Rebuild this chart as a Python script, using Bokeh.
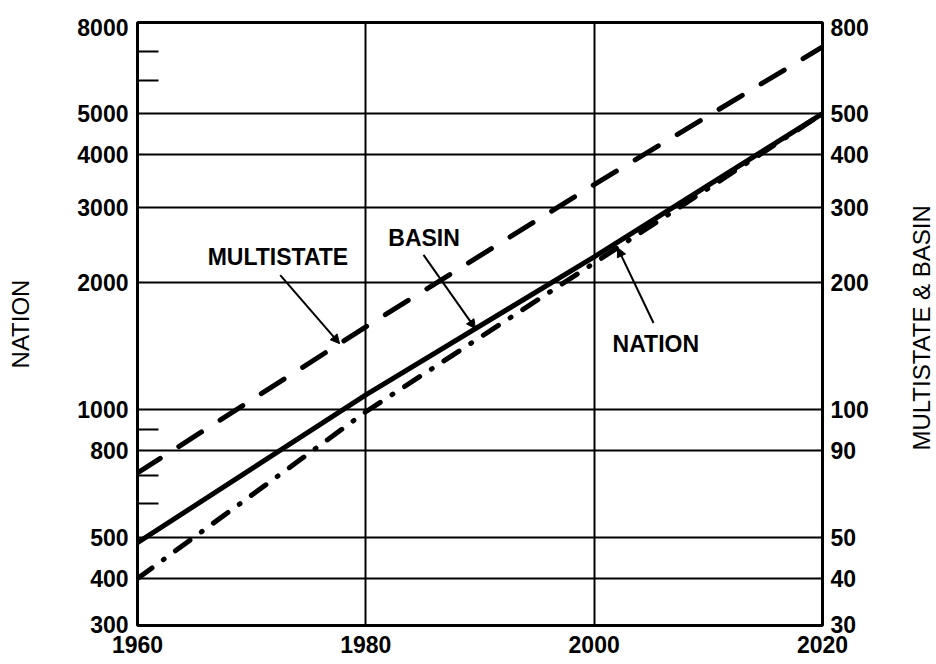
import math
from bokeh.plotting import figure
from bokeh.layouts import row
from bokeh.models import (Range1d, LogScale, LogAxis, FixedTicker, Arrow, NormalHead)
from bokeh.core.properties import value
from bokeh.embed import file_html
from bokeh.resources import INLINE

# ---------------- data ----------------
years = [1960, 1980, 2000, 2020]
nation = [400, 990, 2220, 5000]          # left scale (NATION)
multistate = [71, 157, 340, 718]         # right scale (MULTISTATE & BASIN)
basin = [48.6, 108.5, 229.5, 500]        # right scale

x_ticks = [1960, 1980, 2000, 2020]
x_grid = [1980, 2000]

left_tick_vals = [8000, 5000, 4000, 3000, 2000, 1000, 800, 500, 400, 311]
left_tick_labels = ["8000", "5000", "4000", "3000", "2000", "1000", "800", "500", "400", "300"]
left_minor = [7000, 6000, 900, 700, 600]
y_grid = [5000, 4000, 3000, 2000, 1000, 800, 500, 400]

right_tick_vals = [800, 500, 400, 300, 200, 100, 80, 50, 40, 31.1]
right_tick_labels = ["800", "500", "400", "300", "200", "100", "90", "50", "40", "30"]

left_title = "NATION"
right_title = "MULTISTATE & BASIN"

FONT = "Liberation Sans"
FS = "23px"
FS_TITLE = "24px"
FW = "bold"

Y_START, Y_END = 310, 8200
H = 661
TOP, BOTTOM = 22, 36

def log_interp(x, xs, ys):
    for i in range(len(xs) - 1):
        if xs[i] <= x <= xs[i + 1]:
            t = (x - xs[i]) / (xs[i + 1] - xs[i])
            return 10 ** (math.log10(ys[i]) + t * (math.log10(ys[i + 1]) - math.log10(ys[i])))
    return ys[-1]

# ---------------- main figure ----------------
p = figure(width=908, height=H, x_range=Range1d(1960, 2020), y_range=Range1d(Y_START, Y_END),
           y_axis_type="log", output_backend="svg", toolbar_location=None,
           min_border_left=137, min_border_right=86, min_border_top=TOP, min_border_bottom=BOTTOM)
p.background_fill_color = "white"
p.border_fill_color = "white"
p.outline_line_color = "black"
p.outline_line_width = 3
p.outline_line_alpha = 1

p.extra_y_ranges = {"right": Range1d(Y_START / 10, Y_END / 10)}
p.extra_y_scales = {"right": LogScale()}

def style_labels(ax):
    ax.major_label_text_font = FONT
    ax.major_label_text_font_size = FS
    ax.major_label_text_font_style = FW
    ax.major_label_text_color = "black"
    ax.axis_label_text_font = FONT
    ax.axis_label_text_font_size = FS_TITLE
    ax.axis_label_text_font_style = "normal"
    ax.axis_label_text_color = "black"
    ax.axis_line_color = None
    ax.major_tick_in = 0
    ax.major_tick_out = 0

# x axis
xa = p.xaxis[0]
xa.ticker = FixedTicker(ticks=x_ticks)
xa.major_label_overrides = {v: str(v) for v in x_ticks}
style_labels(xa)
xa.major_label_standoff = 10

# left axis
ya = p.yaxis[0]
ya.ticker = FixedTicker(ticks=left_tick_vals, minor_ticks=left_minor)
ya.major_label_overrides = dict(zip(left_tick_vals, left_tick_labels))
style_labels(ya)
ya.minor_tick_in = 21
ya.minor_tick_out = 0
ya.minor_tick_line_color = "black"
ya.minor_tick_line_width = 2
ya.major_label_standoff = 9
ya.axis_label = left_title
ya.axis_label_standoff = 40

# right axis
ra = LogAxis(y_range_name="right", ticker=FixedTicker(ticks=right_tick_vals))
ra.major_label_overrides = dict(zip(right_tick_vals, right_tick_labels))
style_labels(ra)
ra.minor_tick_in = 0
ra.minor_tick_out = 0
ra.major_label_standoff = 8
p.add_layout(ra, "right")

# grids
p.xgrid.ticker = FixedTicker(ticks=x_grid)
p.ygrid.ticker = FixedTicker(ticks=y_grid)
for g in (p.xgrid, p.ygrid):
    g.grid_line_color = "black"
    g.grid_line_width = 2
    g.grid_line_alpha = 1

# series
p.line(years, multistate, y_range_name="right", line_color="black", line_width=5,
       line_dash="27 22", line_cap="round")
p.line(years, basin, y_range_name="right", line_color="black", line_width=5)
p.line(years, nation, line_color="black", line_width=5,
       line_dash="18 14 1 14", line_cap="round")

# annotations
lab_x = [1972.3, 1985.1, 2005.4]
lab_y = [2296, 2546, 1432]
lab_t = ["MULTISTATE", "BASIN", "NATION"]
p.text(x=lab_x, y=lab_y, text=lab_t, text_font=value(FONT), text_font_size=FS,
       text_font_style=FW, text_align="center", text_baseline="middle", text_color="black")

def add_arrow(x0, y0, x1, y1, rng=None):
    kw = dict(end=NormalHead(size=9, fill_color="black", line_color="black"),
              x_start=x0, y_start=y0, x_end=x1, y_end=y1,
              line_color="black", line_width=2)
    if rng:
        kw["y_range_name"] = rng
    p.add_layout(Arrow(**kw))

add_arrow(1972.5, 208, 1977.7, log_interp(1977.7, years, multistate), "right")
add_arrow(1985.05, 232, 1989.6, log_interp(1989.6, years, basin), "right")
add_arrow(2005.2, 1603, 2002.05, log_interp(2002.05, years, nation))

# ---------------- right-hand title strip (reads bottom to top) ----------------
t = figure(width=26, height=H, x_range=Range1d(0, 1), y_range=Range1d(Y_START, Y_END),
           y_axis_type="log", output_backend="svg", toolbar_location=None,
           min_border_left=0, min_border_right=0, min_border_top=TOP, min_border_bottom=BOTTOM)
t.axis.visible = False
t.grid.visible = False
t.outline_line_color = None
t.background_fill_color = "white"
t.border_fill_color = "white"
t.text(x=[0.5], y=[1561], text=[right_title], angle=math.pi / 2,
       text_font=value(FONT), text_font_size=FS_TITLE, text_color="black",
       text_align="center", text_baseline="middle")

layout = row(p, t, spacing=0)
open("out.html", "w").write(file_html(layout, INLINE))
